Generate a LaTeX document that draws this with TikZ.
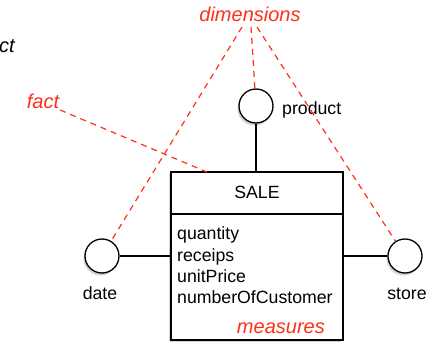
\documentclass[tikz,border=0pt]{standalone}
\usepackage{fontspec}
\setmainfont{Liberation Sans}
\usetikzlibrary{shadows,calc}
\definecolor{annot}{RGB}{255,48,24}
\begin{document}
\begin{tikzpicture}[x=1pt,y=-1pt,
  ent/.style={circle,draw,line width=1.3pt,fill=white,minimum size=34pt,inner sep=0pt,
    drop shadow={opacity=0.35,shadow xshift=-1.5pt,shadow yshift=-2.5pt}},
  factbox/.style={rectangle,draw,line width=1.3pt,fill=white,minimum width=172pt,minimum height=168pt,inner sep=0pt,
    drop shadow={opacity=0.35,shadow xshift=-2.5pt,shadow yshift=-2.5pt}},
  txt/.style={font=\fontsize{17.7}{21}\selectfont,inner sep=0pt,text=black},
  annotxt/.style={font=\fontsize{20}{24}\selectfont\itshape,inner sep=0pt,text=annot},
  link/.style={line width=1.3pt},
  annoline/.style={annot,line width=1.2pt,dash pattern=on 6pt off 5pt}]
\useasboundingbox (0,0) rectangle (434,342);

% entities
\node[factbox] (sale) at (257,256) {};
\node[ent] (product) at (256,106) {};
\node[ent] (date) at (102,256) {};
\node[ent] (store) at (405,256) {};

% connectors
\draw[link] (product) -- (sale.north -| product);
\draw[link] (date) -- (sale.west |- date);
\draw[link] (store) -- (sale.east |- store);

% box contents
\draw[link] ($(sale.west)+(0,-42)$) coordinate (divl) -- ($(sale.east)+(0,-42)$) coordinate (divr);
\node[txt,anchor=base] (title) at (257,199) {SALE};
\node[txt,anchor=base west] (a1) at (177,239) {quantity};
\node[txt,anchor=base west] (a2) at (177,261) {receips};
\node[txt,anchor=base west] (a3) at (177,282) {unitPrice};
\node[txt,anchor=base west] (a4) at (177,303) {numberOfCustomer};
\node[annotxt,anchor=base east] (measures) at (325,333) {measures};

% entity labels
\node[txt,anchor=base west] (lproduct) at (282,115) {product};
\node[txt,anchor=base] (ldate) at (100,299) {date};
\node[txt,anchor=base] (lstore) at (407,299) {store};

% annotations
\node[annotxt,anchor=base] (dims) at (250,22) {dimensions};
\node[annotxt,anchor=base] (fact) at (43,109) {fact};
\node[font=\fontsize{20}{24}\selectfont\itshape,inner sep=0pt,anchor=base east] (cut) at (15,53) {ct};

\coordinate (d1) at (242,27);
\coordinate (d2) at (251,27);
\coordinate (d3) at (257,27);
\coordinate (f1) at (60,110);
\coordinate (f2) at (207,172);
\draw[annoline] (d1) -- (date);
\draw[annoline] (d2) -- (product);
\draw[annoline] (d3) -- (store);
\draw[annoline] (f1) -- (f2);
\end{tikzpicture}
\end{document}
